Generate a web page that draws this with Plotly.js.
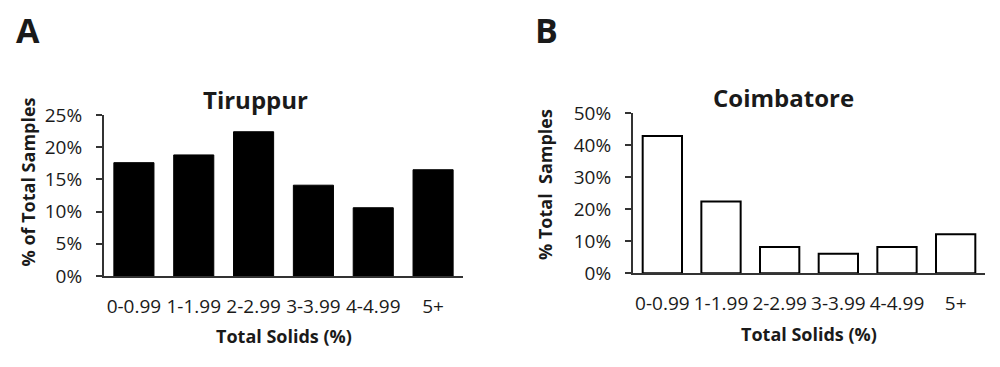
<!DOCTYPE html>
<html>
<head>
<meta charset="utf-8">
<script src="https://cdn.plot.ly/plotly-3.0.1.min.js"></script>
<style>html,body{margin:0;padding:0;background:#fff;}#chart{width:1000px;height:367px;}</style>
</head>
<body>
<div id="chart"></div>
<script>
const categories = ["0-0.99", "1-1.99", "2-2.99", "3-3.99", "4-4.99", "5+"];
const tiruppurValues = [17.6, 18.8, 22.4, 14.1, 10.6, 16.5];
const coimbatoreValues = [42.9, 22.4, 8.2, 6.1, 8.2, 12.2];
const panelLabels = ["A", "B"];
const chartTitles = ["Tiruppur", "Coimbatore"];
const xTitle = "Total Solids (%)";
const yTitles = ["% of Total Samples", "% Total  Samples"];

const W = 1000, H = 367;
const px = x => x / W;
const py = y => (H - y) / H;
const FONT = "Open Sans, Noto Sans, sans-serif";
const TXT = "#1a1a1a";

const traces = [
  {type: "bar", x: categories, y: tiruppurValues, xaxis: "x", yaxis: "y",
   marker: {color: "#000", line: {color: "#000", width: 1}}, hoverinfo: "skip"},
  {type: "bar", x: categories, y: coimbatoreValues, xaxis: "x2", yaxis: "y2",
   marker: {color: "#fff", line: {color: "#000", width: 2}}, hoverinfo: "skip"}
];

const xCommon = {type: "category", showline: true, linecolor: "#333", linewidth: 2,
  ticks: "", showgrid: false, zeroline: false, ticklabelstandoff: 12,
  tickfont: {family: FONT, size: 19, color: TXT}, fixedrange: true};
const yCommon = {showline: true, linecolor: "#333", linewidth: 2, ticks: "outside",
  ticklen: 6, tickwidth: 2, tickcolor: "#333", showgrid: false, zeroline: false,
  ticksuffix: "%", ticklabelstandoff: 10,
  tickfont: {family: FONT, size: 19, color: TXT}, fixedrange: true};

const ann = (text, x, y, size, opts) => Object.assign({text: text, x: px(x), y: py(y),
  xref: "paper", yref: "paper", showarrow: false, xanchor: "center", yanchor: "middle",
  font: {family: FONT, size: size, color: TXT}}, opts || {});

const layout = {
  width: W, height: H, margin: {l: 0, r: 0, t: 0, b: 0},
  paper_bgcolor: "#fff", plot_bgcolor: "#fff", showlegend: false, bargap: 0.33,
  xaxis: Object.assign({}, xCommon, {domain: [px(104), px(463)], anchor: "y"}),
  yaxis: Object.assign({}, yCommon, {domain: [py(276), py(115)], range: [0, 25], dtick: 5, anchor: "x"}),
  xaxis2: Object.assign({}, xCommon, {domain: [px(633), px(985)], anchor: "y2"}),
  yaxis2: Object.assign({}, yCommon, {domain: [py(273.3), py(113.3)], range: [0, 50], dtick: 10, anchor: "x2"}),
  annotations: [
    ann("<b>" + panelLabels[0] + "</b>", 28, 30, 34),
    ann("<b>" + panelLabels[1] + "</b>", 546, 30, 34),
    ann("<b>" + chartTitles[0] + "</b>", 255, 99, 24),
    ann("<b>" + chartTitles[1] + "</b>", 783.5, 97, 24),
    ann("<b>" + xTitle + "</b>", 284, 336, 18),
    ann("<b>" + xTitle + "</b>", 809, 334, 18),
    ann("<b>" + yTitles[0] + "</b>", 28, 182.5, 18, {textangle: -90}),
    ann("<b>" + yTitles[1] + "</b>", 545, 185, 18, {textangle: -90})
  ]
};

Plotly.newPlot("chart", traces, layout, {staticPlot: true, displayModeBar: false});
</script>
</body>
</html>
